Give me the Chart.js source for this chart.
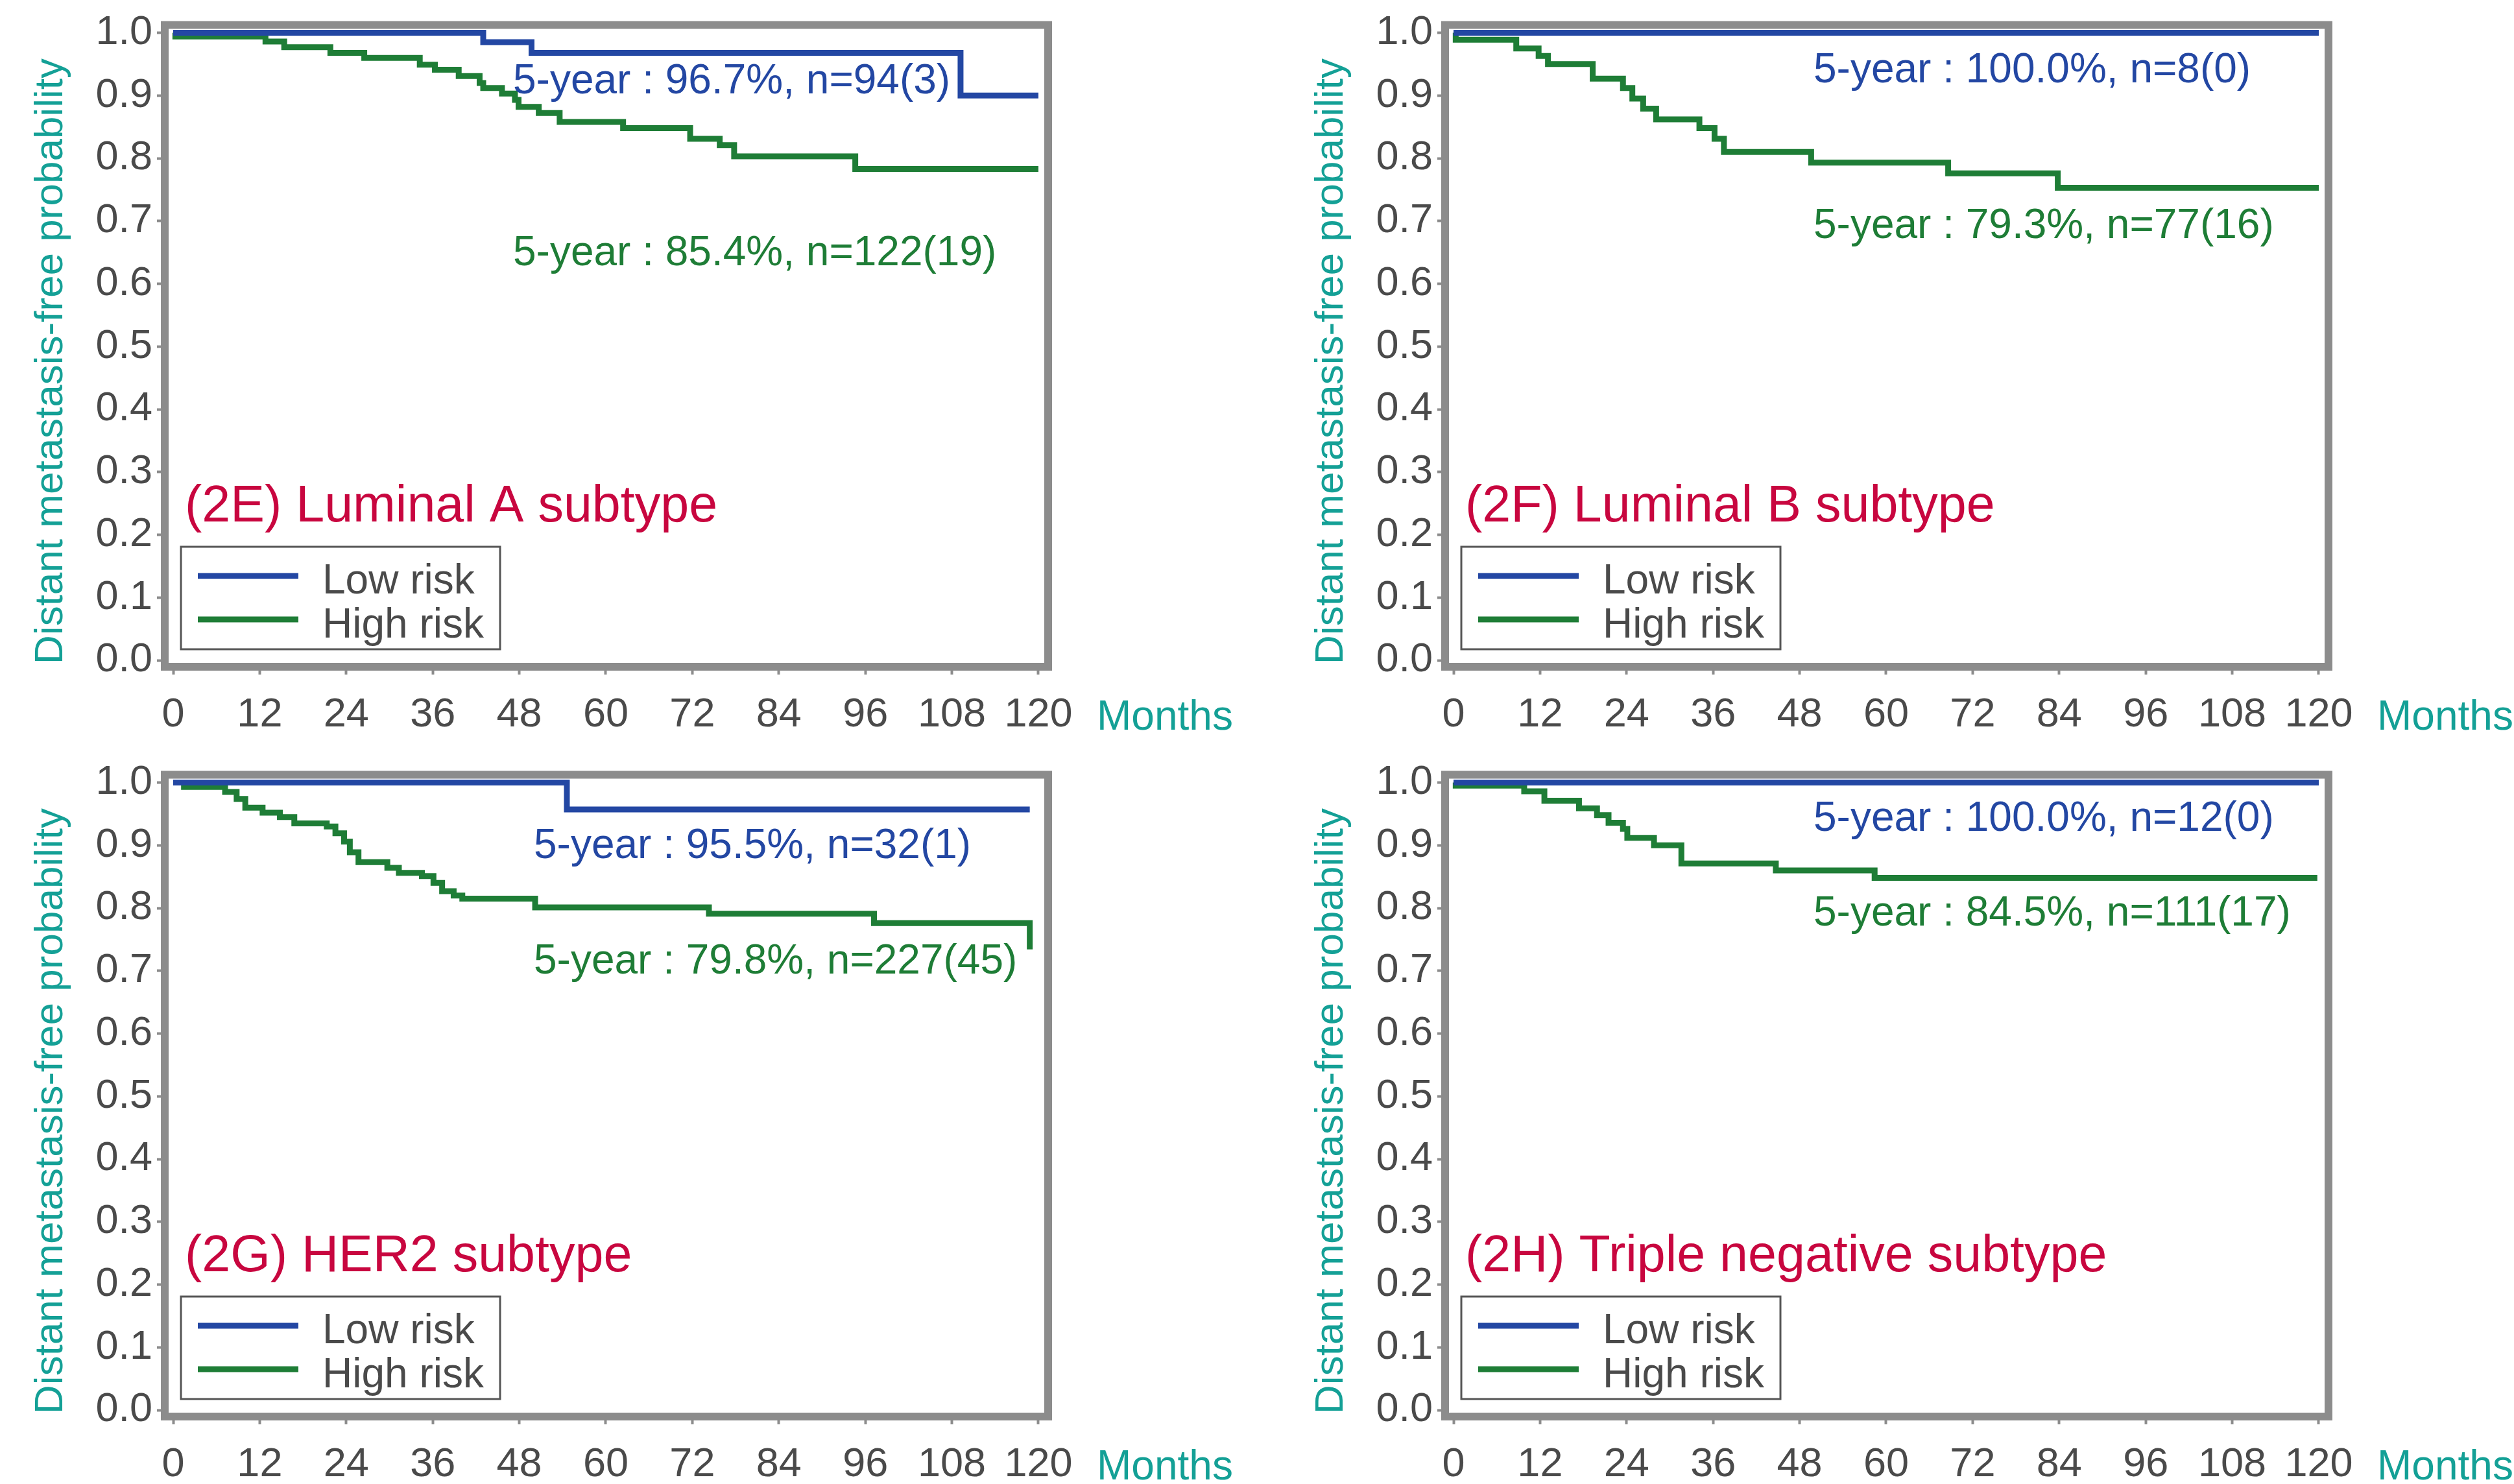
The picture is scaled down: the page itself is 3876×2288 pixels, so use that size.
<!DOCTYPE html>
<html>
<head>
<meta charset="utf-8">
<script src="https://cdn.jsdelivr.net/npm/chart.js@4.4.1/dist/chart.umd.min.js"></script>
<style>
  html, body { margin: 0; padding: 0; background: #fff; }
  body { width: 3876px; height: 2288px; position: relative; overflow: hidden; }
  canvas { position: absolute; }
</style>
</head>
<body>
<canvas id="painelE" width="1900" height="1130" style="left:0px;top:0px"></canvas>
<canvas id="painelF" width="1900" height="1130" style="left:1974px;top:0px"></canvas>
<canvas id="painelG" width="1900" height="1130" style="left:0px;top:1156px"></canvas>
<canvas id="painelH" width="1900" height="1130" style="left:1974px;top:1156px"></canvas>
<script>
// tick labels
const xTickValues = [0, 12, 24, 36, 48, 60, 72, 84, 96, 108, 120];
const yTickValues = [0, 0.1, 0.2, 0.3, 0.4, 0.5, 0.6, 0.7, 0.8, 0.9, 1.0];

// (2E) Luminal A
const lumALowTime = [0, 43.0, 49.7, 109.2, 120];
const lumALowSurv = [1.0, 0.985, 0.968, 0.900, 0.900];
const lumAHighTime = [0, 0.3, 12.8, 15.4, 21.8, 26.5, 34.2, 36.3, 39.6, 42.5, 43.0, 45.6, 47.4, 47.9, 50.7, 53.6, 62.4, 71.7, 75.8, 77.8, 94.6, 120];
const lumAHighSurv = [1.0, 0.994, 0.986, 0.977, 0.968, 0.960, 0.949, 0.941, 0.931, 0.920, 0.912, 0.903, 0.893, 0.882, 0.872, 0.858, 0.848, 0.831, 0.821, 0.803, 0.783, 0.783];

// (2F) Luminal B
const lumBLowTime = [0, 120];
const lumBLowSurv = [1.0, 1.0];
const lumBHighTime = [0, 0.3, 8.7, 11.8, 13.1, 19.3, 23.5, 24.8, 26.3, 28.1, 34.1, 36.2, 37.5, 49.6, 68.6, 83.8, 120];
const lumBHighSurv = [1.0, 0.989, 0.975, 0.963, 0.950, 0.927, 0.912, 0.895, 0.879, 0.862, 0.848, 0.831, 0.810, 0.793, 0.776, 0.753, 0.753];

// (2G) HER2
const her2LowTime = [0, 54.6, 118.8];
const her2LowSurv = [1.0, 0.957, 0.957];
const her2HighTime = [0, 1.5, 7.2, 8.8, 10.0, 12.4, 14.8, 16.8, 21.3, 22.5, 23.7, 24.5, 25.7, 29.7, 31.3, 34.5, 36.1, 37.3, 38.9, 40.1, 50.2, 74.3, 97.2, 118.8];
const her2HighSurv = [1.0, 0.993, 0.985, 0.974, 0.960, 0.952, 0.945, 0.935, 0.930, 0.919, 0.906, 0.889, 0.873, 0.864, 0.856, 0.851, 0.840, 0.827, 0.820, 0.815, 0.801, 0.791, 0.776, 0.734];

// (2H) Triple negative
const tnLowTime = [0, 120];
const tnLowSurv = [1.0, 1.0];
const tnHighTime = [0, 0.3, 9.8, 12.6, 17.4, 19.9, 21.5, 23.5, 24.1, 27.8, 31.6, 44.7, 58.4, 119.8];
const tnHighSurv = [1.0, 0.995, 0.986, 0.971, 0.959, 0.948, 0.936, 0.926, 0.912, 0.900, 0.871, 0.860, 0.848, 0.848];

const AZUL = '#2347a3';
const VERDE = '#1e7d36';
const CARMIM = '#c8063f';
const TEAL = '#14a096';
const CINZA = '#8c8c8c';
const TEXTO = '#4a4a4a';
const FONTE = '"Liberation Sans", Arial, sans-serif';

function pontos(tempos, valores) {
  return tempos.map((t, i) => ({ x: t, y: valores[i] }));
}

function escrever(ctx, texto, x, yCentro, tamanho, cor) {
  ctx.font = tamanho + 'px ' + FONTE;
  ctx.fillStyle = cor;
  ctx.textAlign = 'left';
  ctx.textBaseline = 'alphabetic';
  ctx.fillText(texto, x, yCentro + 0.358 * tamanho);
}

const decoracao = {
  id: 'decoracao',
  beforeDatasetsDraw(chart) {
    const { ctx, chartArea } = chart;
    ctx.save();
    ctx.strokeStyle = CINZA;
    ctx.lineWidth = 12;
    ctx.strokeRect(chartArea.left, chartArea.top, chartArea.right - chartArea.left, chartArea.bottom - chartArea.top);
    ctx.restore();
  },
  afterDraw(chart, args, opts) {
    const { ctx, chartArea } = chart;
    ctx.save();

    // y axis title
    ctx.save();
    ctx.translate(96, 557);
    ctx.rotate(-Math.PI / 2);
    ctx.font = '62px ' + FONTE;
    ctx.fillStyle = TEAL;
    ctx.textAlign = 'center';
    ctx.textBaseline = 'alphabetic';
    ctx.fillText('Distant metastasis-free probability', 0, 0);
    ctx.restore();

    // x axis title
    escrever(ctx, 'Months', chartArea.right + 75, 1102, 64, TEAL);

    // subtype label
    escrever(ctx, opts.titulo, 285, 776, 79, CARMIM);

    // 5-year notes
    opts.notas.forEach(n => escrever(ctx, n.texto, n.x, n.y, 64, n.cor));

    // legend box
    ctx.strokeStyle = '#555555';
    ctx.lineWidth = 3;
    ctx.strokeRect(279, 843, 492, 158);
    const linhasY = [888, 955];
    const textosY = [892, 960];
    chart.data.datasets.forEach((ds, i) => {
      ctx.strokeStyle = ds.borderColor;
      ctx.lineWidth = 9;
      ctx.beginPath();
      ctx.moveTo(305, linhasY[i]);
      ctx.lineTo(460, linhasY[i]);
      ctx.stroke();
      escrever(ctx, ds.label, 497, textosY[i], 64, TEXTO);
    });
    ctx.restore();
  }
};

function montarPainel(id, baixo, alto, titulo, notas) {
  const ctx = document.getElementById(id);
  new Chart(ctx, {
    type: 'line',
    data: {
      datasets: [
        {
          label: 'Low risk',
          data: baixo,
          borderColor: AZUL,
          borderWidth: 9,
          stepped: true,
          pointRadius: 0,
          fill: false
        },
        {
          label: 'High risk',
          data: alto,
          borderColor: VERDE,
          borderWidth: 9,
          stepped: true,
          pointRadius: 0,
          fill: false
        }
      ]
    },
    options: {
      responsive: false,
      animation: false,
      devicePixelRatio: 1,
      layout: { padding: { left: 0, top: 37, right: 284, bottom: 0 } },
      plugins: {
        legend: { display: false },
        tooltip: { enabled: false },
        decoracao: { titulo: titulo, notas: notas }
      },
      scales: {
        x: {
          type: 'linear',
          min: -1.17,
          max: 121.35,
          afterBuildTicks: axis => { axis.ticks = xTickValues.map(v => ({ value: v })); },
          afterFit: s => { s.height = 102; },
          border: { display: false },
          grid: { drawOnChartArea: false, drawTicks: true, tickLength: 12, tickWidth: 4, tickColor: CINZA },
          ticks: {
            autoSkip: false,
            maxRotation: 0,
            padding: 31,
            color: TEXTO,
            font: { family: FONTE, size: 63, lineHeight: 1 },
            callback: v => String(v)
          }
        },
        y: {
          type: 'linear',
          min: -0.0103,
          max: 1.0124,
          afterBuildTicks: axis => { axis.ticks = yTickValues.map(v => ({ value: v })); },
          afterFit: s => { s.width = 254; },
          border: { display: false },
          grid: { drawOnChartArea: false, drawTicks: true, tickLength: 12, tickWidth: 4, tickColor: CINZA },
          ticks: {
            padding: 7,
            color: TEXTO,
            font: { family: FONTE, size: 63, lineHeight: 1 },
            callback: v => v.toFixed(1)
          }
        }
      }
    },
    plugins: [decoracao]
  });
}

montarPainel('painelE', pontos(lumALowTime, lumALowSurv), pontos(lumAHighTime, lumAHighSurv),
  '(2E) Luminal A subtype', [
    { texto: '5-year : 96.7%, n=94(3)', x: 791, y: 121, cor: AZUL },
    { texto: '5-year : 85.4%, n=122(19)', x: 791, y: 386, cor: VERDE }
  ]);

montarPainel('painelF', pontos(lumBLowTime, lumBLowSurv), pontos(lumBHighTime, lumBHighSurv),
  '(2F) Luminal B subtype', [
    { texto: '5-year : 100.0%, n=8(0)', x: 822, y: 104, cor: AZUL },
    { texto: '5-year : 79.3%, n=77(16)', x: 822, y: 344, cor: VERDE }
  ]);

montarPainel('painelG', pontos(her2LowTime, her2LowSurv), pontos(her2HighTime, her2HighSurv),
  '(2G) HER2 subtype', [
    { texto: '5-year : 95.5%, n=32(1)', x: 823, y: 144, cor: AZUL },
    { texto: '5-year : 79.8%, n=227(45)', x: 823, y: 322, cor: VERDE }
  ]);

montarPainel('painelH', pontos(tnLowTime, tnLowSurv), pontos(tnHighTime, tnHighSurv),
  '(2H) Triple negative subtype', [
    { texto: '5-year : 100.0%, n=12(0)', x: 822, y: 102, cor: AZUL },
    { texto: '5-year : 84.5%, n=111(17)', x: 822, y: 248, cor: VERDE }
  ]);
</script>
</body>
</html>
